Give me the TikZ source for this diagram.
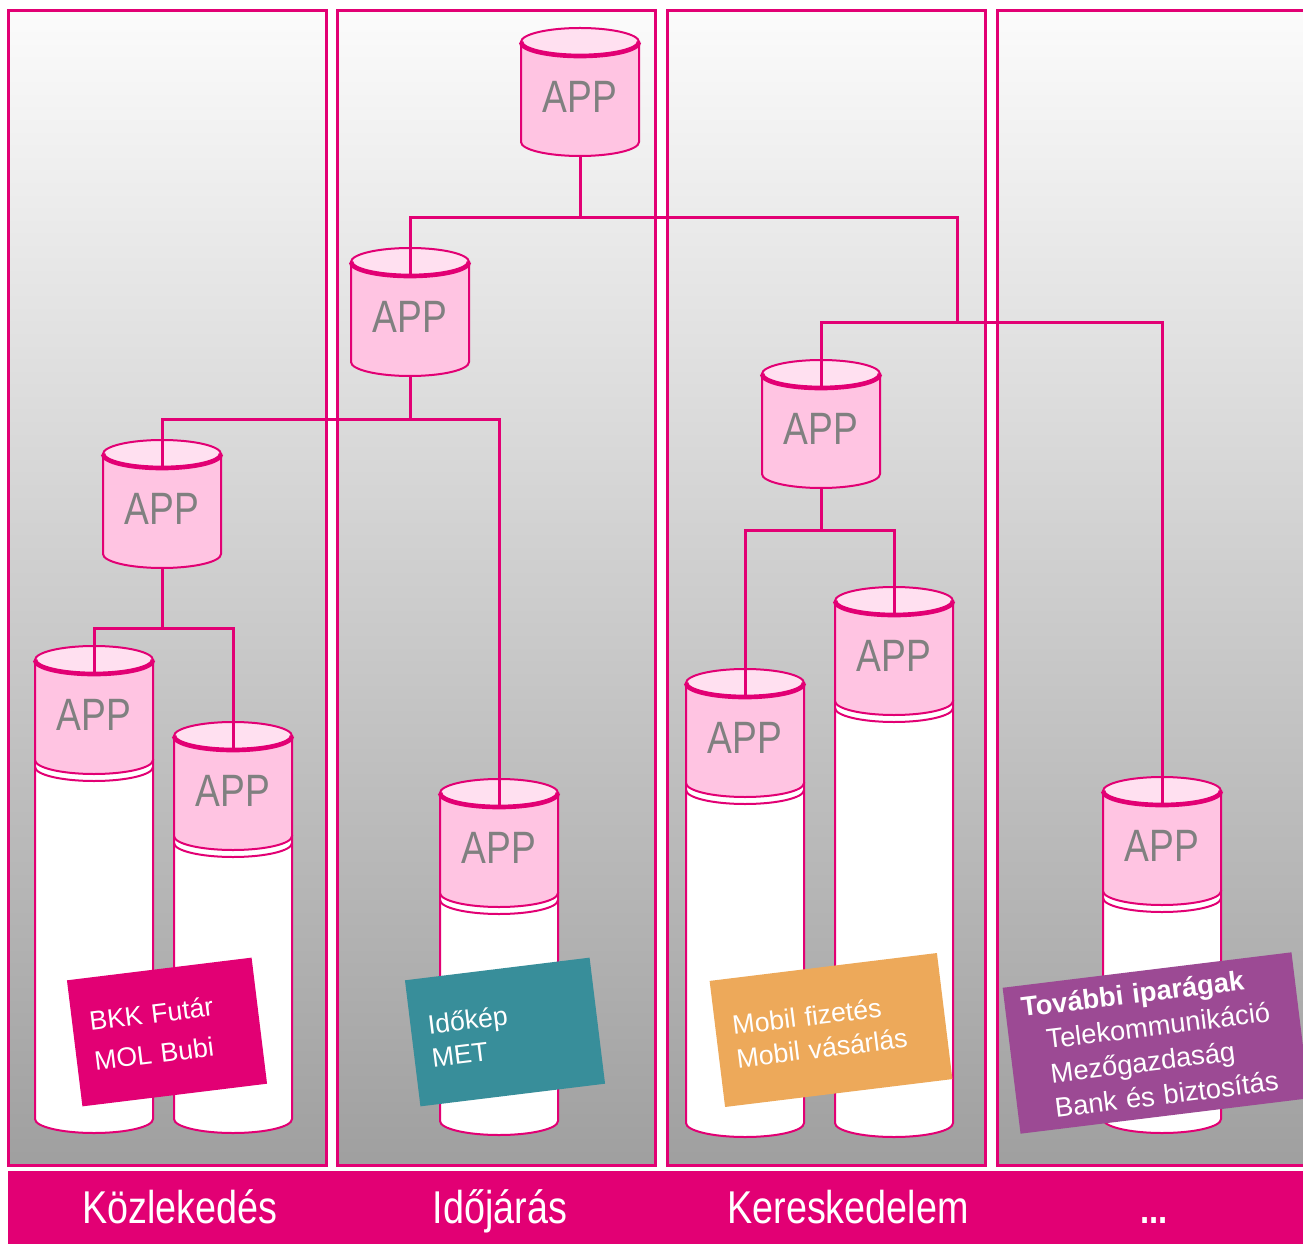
\documentclass[tikz,border=0pt]{standalone}
\usepackage{fontspec}
\setmainfont{Liberation Sans}
\newfontfamily\narrowsans[FakeStretch=0.82]{Liberation Sans}

\definecolor{tmagenta}{HTML}{E20074}
\definecolor{apppink}{HTML}{FFC4E2}
\definecolor{toppink}{HTML}{FFE0F0}
\definecolor{appgray}{HTML}{808080}
\definecolor{tagteal}{HTML}{388E9A}
\definecolor{tagorange}{HTML}{EDA95A}
\definecolor{tagpurple}{HTML}{9C4A94}

\tikzset{every picture/.style={line width=0.75pt}}
\tikzset{
  panel/.style={draw=tmagenta, line width=2.25pt, top color=gray!3, bottom color=gray!75},
  cylline/.style={draw=tmagenta, line width=1.5pt},
  cylbody/.style={cylline, fill=apppink},
  cyltop/.style={cylline, fill=toppink},
  cylrim/.style={draw=tmagenta, line width=3.5pt},
  colwhite/.style={cylline, fill=white},
  apptext/.style={text=appgray, inner sep=0pt, font=\narrowsans\fontsize{34}{34}\selectfont},
  link/.style={draw=tmagenta, line width=2.25pt},
  tagbox/.style={rotate=7, inner xsep=13pt, inner ysep=0pt, align=left, text=white, minimum height=95.25pt},
  bandlabel/.style={anchor=base, text=white, font=\narrowsans\fontsize{34.5}{34.5}\selectfont}
}

% APP cylinder: name, centre x, top y
\newcommand{\appcyl}[3]{%
  \filldraw[cylbody] ({#2-59},{#3+14}) -- ({#2-59},{#3+114}) arc[start angle=180, end angle=0, x radius=59, y radius=14] -- ({#2+59},{#3+14}) -- cycle;
  \filldraw[cyltop] (#2,{#3+14}) ellipse[x radius=59, y radius=14];
  \draw[cylrim] ({#2-59},{#3+14}) arc[start angle=180, end angle=0, x radius=59, y radius=14];
  \node[apptext] (#1) at (#2,{#3+69}) {APP};
  \coordinate (#1-in) at (#2,{#3+28});
  \coordinate (#1-out) at (#2,{#3+128});
}
% APP cylinder standing on a white column: name, centre x, top y, bottom y
\newcommand{\appstack}[4]{%
  \filldraw[colwhite] ({#2-59},{#3+114}) -- ({#2-59},{#4-14}) arc[start angle=180, end angle=0, x radius=59, y radius=14] -- ({#2+59},{#3+114}) -- cycle;
  \draw[cylline] ({#2-59},{#3+121}) arc[start angle=180, end angle=0, x radius=59, y radius=14];
  \appcyl{#1}{#2}{#3}
}

\begin{document}
\begin{tikzpicture}[x=0.75pt,y=0.75pt,yscale=-1,xscale=1]
    \useasboundingbox (0,0) rectangle (1303,1244);
    \clip (0,0) rectangle (1303,1244);
    % Panels
    \draw[panel] (8.5,10.5) rectangle (326.5,1165.5);
    \draw[panel] (337.5,10.5) rectangle (655.5,1165.5);
    \draw[panel] (667.5,10.5) rectangle (985.5,1165.5);
    \draw[panel] (997.5,10.5) rectangle (1330,1165.5);
    % Cylinders
    \appcyl{a1}{580}{28}
    \appcyl{a2}{410}{248}
    \appcyl{a3}{162}{440}
    \appstack{a4}{94}{646}{1133}
    \appstack{a5}{233}{722}{1133}
    \appstack{a6}{499}{779}{1135}
    \appcyl{a7}{821}{360}
    \appstack{a8}{745}{669}{1137}
    \appstack{a9}{894}{587}{1137}
    \appstack{a10}{1162}{777}{1133}
    % Connection
    \coordinate (j1) at (580,218);
    \coordinate (hub) at (957,323);
    \coordinate (j2) at (410,420);
    \coordinate (j3) at (162,628);
    \coordinate (j4) at (821,530);
    \draw[link] (a1-out) -- (j1) -| (a2-in);
    \draw[link] (j1) -| (hub);
    \draw[link] (hub) -| (a7-in);
    \draw[link] (hub) -| (a10-in);
    % Connection
    \draw[link] (a2-out) -- (j2) -| (a3-in);
    \draw[link] (j2) -| (a6-in);
    % Connection
    \draw[link] (a3-out) -- (j3) -| (a4-in);
    \draw[link] (j3) -| (a5-in);
    % Connection
    \draw[link] (a7-out) -- (j4) -| (a8-in);
    \draw[link] (j4) -| (a9-in);
    % Text Node
    \node[tagbox, fill=tmagenta, text width=113.5pt, font=\fontsize{20}{30}\selectfont] (tbkk) at (167,1032) {BKK Futár\\MOL Bubi};
    \node[tagbox, fill=tagteal, text width=113.5pt, font=\fontsize{20}{25}\selectfont] (tido) at (505,1032) {Időkép\\MET};
    \node[tagbox, fill=tagorange, text width=145.75pt, font=\fontsize{20}{25}\selectfont] (tmob) at (831,1030) {Mobil fizetés\\Mobil vásárlás};
    \node[tagbox, fill=tagpurple, inner xsep=12pt, text width=194.25pt, minimum height=110.25pt, font=\fontsize{20.5}{26}\selectfont] (tmore) at (1156,1043) {\textbf{További iparágak}\\\hspace*{16pt}Telekommunikáció\\\hspace*{16pt}Mezőgazdaság\\\hspace*{16pt}Bank és biztosítás};
    % Bottom band
    \fill[tmagenta] (8,1171) rectangle (1303,1244);
    \node[bandlabel] (lkoz) at (180,1223) {Közlekedés};
    \node[bandlabel] (lido) at (500,1223) {Időjárás};
    \node[bandlabel] (lker) at (848,1223) {Kereskedelem};
    \node[bandlabel, font=\narrowsans\bfseries\fontsize{30}{30}\selectfont] (lmore) at (1154,1223) {...};
\end{tikzpicture}
\end{document}
